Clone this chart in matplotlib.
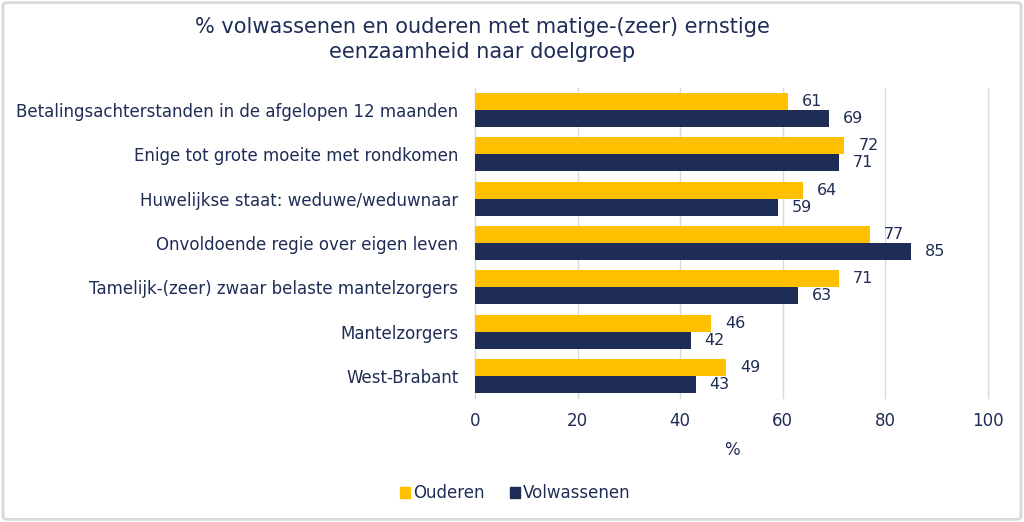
import matplotlib
matplotlib.use("Agg")
import matplotlib.pyplot as plt
import numpy as np
from matplotlib.patches import FancyBboxPatch, Patch

categories = [
    "Betalingsachterstanden in de afgelopen 12 maanden",
    "Enige tot grote moeite met rondkomen",
    "Huwelijkse staat: weduwe/weduwnaar",
    "Onvoldoende regie over eigen leven",
    "Tamelijk-(zeer) zwaar belaste mantelzorgers",
    "Mantelzorgers",
    "West-Brabant",
]
ouderen = [61, 72, 64, 77, 71, 46, 49]
volwassenen = [69, 71, 59, 85, 63, 42, 43]
xticks = [0, 20, 40, 60, 80, 100]

YELLOW = "#FFC000"
NAVY = "#1F2D56"
TEXT = "#1F2D56"
GRID = "#D9D9D9"

plt.rcParams['font.family'] = ['DejaVu Sans']

fig = plt.figure(figsize=(10.24, 5.22), dpi=100)
ax = fig.add_axes([0.4639, 0.2375, 0.5010, 0.594])

y = np.arange(len(categories))
h = 0.385
ax.barh(y - h / 2, ouderen, height=h, color=YELLOW, label="Ouderen", zorder=3)
ax.barh(y + h / 2, volwassenen, height=h, color=NAVY, label="Volwassenen", zorder=3)

for yi, v in zip(y - h / 2, ouderen):
    ax.annotate(str(v), (v, yi), xytext=(10, 0), textcoords="offset points",
                va="center", ha="left", fontsize=11.5, color=TEXT)
for yi, v in zip(y + h / 2, volwassenen):
    ax.annotate(str(v), (v, yi), xytext=(10, 0), textcoords="offset points",
                va="center", ha="left", fontsize=11.5, color=TEXT)

ax.set_ylim(len(categories) - 0.5, -0.5)
ax.set_xlim(0, 100)
ax.set_yticks(y)
ax.set_yticklabels(categories, fontsize=12, color=TEXT)
ax.set_xticks(xticks)
ax.set_xticklabels([str(t) for t in xticks], fontsize=12, color=TEXT)
ax.tick_params(axis="both", length=0)
ax.tick_params(axis="x", pad=10)
ax.tick_params(axis="y", pad=12)
ax.xaxis.grid(True, color=GRID, linewidth=1, zorder=0)
for line in ax.get_xgridlines():
    line.set_clip_on(False)
for s in ax.spines.values():
    s.set_visible(False)
ax.set_xlabel("%", fontsize=12, color=TEXT, labelpad=8)

fig.text(0.471, 0.925, "% volwassenen en ouderen met matige-(zeer) ernstige\neenzaamheid naar doelgroep",
         ha="center", va="center", fontsize=15, color=TEXT, linespacing=1.3)

handles = [Patch(color=YELLOW), Patch(color=NAVY)]
fig.legend(handles, ["Ouderen", "Volwassenen"], loc="center", bbox_to_anchor=(0.503, 0.055),
           ncol=2, frameon=False, fontsize=12, handlelength=0.6, handleheight=0.6,
           handletextpad=0.2, columnspacing=1.5, labelcolor=TEXT)

border = FancyBboxPatch((0.003, 0.005), 0.994, 0.99, boxstyle="round,pad=0,rounding_size=0.005",
                        transform=fig.transFigure, facecolor="none", edgecolor="#D9D9D9", linewidth=2)
fig.patches.append(border)

fig.savefig("out.png", dpi=100)
